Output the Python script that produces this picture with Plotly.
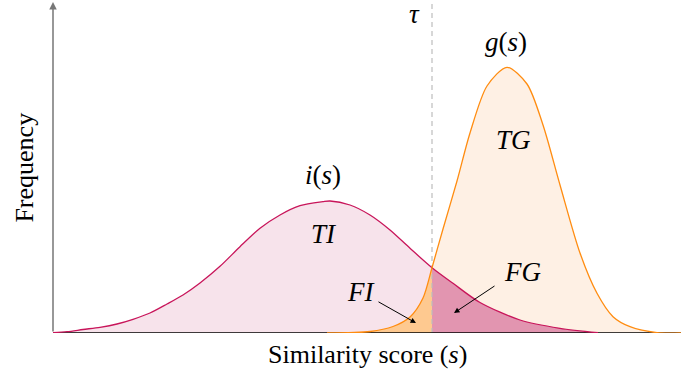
import plotly.graph_objects as go

# similarity score axis (s) and frequency
s_range = [0, 6.28]
f_range = [0, 3.31]
tau = 3.79

# impostor distribution i(s)
imp_s = [0.00, 0.14, 0.30, 0.47, 0.64, 0.80, 0.97, 1.14, 1.30, 1.47, 1.67, 1.87, 2.07, 2.27,
         2.47, 2.70, 2.77, 2.97, 3.17, 3.37, 3.57, 3.79, 4.00, 4.27, 4.67, 5.07, 5.45]
imp_f = [0.003, 0.013, 0.035, 0.057, 0.09, 0.137, 0.20, 0.29, 0.38, 0.50, 0.667, 0.863, 1.047, 1.18,
         1.273, 1.313, 1.32, 1.28, 1.18, 1.03, 0.847, 0.653, 0.497, 0.305, 0.13, 0.047, 0.003]

# genuine distribution g(s)
gen_s = [2.74, 3.17, 3.40, 3.57, 3.70, 3.79, 3.90, 4.04, 4.17, 4.34, 4.54,
         4.74, 4.90, 5.07, 5.27, 5.44, 5.60, 5.77, 6.04, 6.28]
gen_f = [0.0, 0.015, 0.065, 0.16, 0.35, 0.653, 1.04, 1.52, 2.0, 2.47, 2.657,
         2.49, 2.08, 1.48, 0.80, 0.397, 0.163, 0.063, 0.003, 0.0]

crimson = "#c8155a"
orange = "#ff8c10"
serif = "Liberation Serif, Times New Roman, serif"

fi_s = [s for s in gen_s if s <= tau]
fi_f = [f for s, f in zip(gen_s, gen_f) if s <= tau]
fg_s = [s for s in imp_s if s >= tau]
fg_f = [f for s, f in zip(imp_s, imp_f) if s >= tau]

smooth = dict(shape="spline", smoothing=0.8)

fig = go.Figure()
# filled areas
fig.add_trace(go.Scatter(x=imp_s, y=imp_f, fill="tozeroy", fillcolor="#f7e3eb",
                         line=dict(width=0, **smooth), mode="lines"))
fig.add_trace(go.Scatter(x=gen_s, y=gen_f, fill="tozeroy", fillcolor="#fef0e4",
                         line=dict(width=0, **smooth), mode="lines"))
fig.add_trace(go.Scatter(x=fi_s, y=fi_f, fill="tozeroy", fillcolor="#fec990",
                         line=dict(width=0, **smooth), mode="lines"))
fig.add_trace(go.Scatter(x=fg_s, y=fg_f, fill="tozeroy", fillcolor="#e295b0",
                         line=dict(width=0, **smooth), mode="lines"))
# threshold
fig.add_trace(go.Scatter(x=[tau, tau], y=f_range, mode="lines",
                         line=dict(color="#bdbdbd", width=1.2, dash="5px,4px")))
# baseline
fig.add_trace(go.Scatter(x=s_range, y=[0, 0], mode="lines", line=dict(color="black", width=1.4)))
# curves
fig.add_trace(go.Scatter(x=imp_s, y=imp_f, mode="lines",
                         line=dict(color=crimson, width=1.3, **smooth)))
fig.add_trace(go.Scatter(x=gen_s, y=gen_f, mode="lines",
                         line=dict(color=orange, width=1.3, **smooth)))

# y axis with arrow
fig.add_annotation(x=0, y=f_range[1], ax=0, ay=0, xref="x", yref="y", axref="x", ayref="y",
                   text="", showarrow=True, arrowhead=2, arrowsize=1, arrowwidth=1.5,
                   arrowcolor="#777777")

math = dict(family=serif, size=27, color="black")
labels = [
    ("<i>i</i>(<i>s</i>)", 2.70, 1.58),
    ("<i>TI</i>", 2.71, 0.99),
    ("<i>g</i>(<i>s</i>)", 4.53, 2.91),
    ("<i>TG</i>", 4.60, 1.93),
    ("<i>τ</i>", 3.61, 3.19),
    ("<i>FI</i>", 3.08, 0.41),
    ("<i>FG</i>", 4.69, 0.61),
]
for txt, x, y in labels:
    fig.add_annotation(x=x, y=y, text=txt, showarrow=False, font=math,
                       xanchor="center", yanchor="middle")

# pointer arrows for FI and FG
for head, tail in [((3.63, 0.10), (3.24, 0.32)), ((4.01, 0.20), (4.43, 0.48))]:
    fig.add_annotation(x=head[0], y=head[1], ax=tail[0], ay=tail[1],
                       xref="x", yref="y", axref="x", ayref="y", text="",
                       showarrow=True, arrowhead=2, arrowsize=1.1, arrowwidth=1,
                       arrowcolor="black")

fig.add_annotation(x=0.5, y=-0.066, xref="paper", yref="paper", xanchor="center", yanchor="middle",
                   text="Similarity score (<i>s</i>)", showarrow=False,
                   font=dict(family=serif, size=26, color="black"))
fig.add_annotation(x=-0.046, y=0.5, xref="paper", yref="paper", xanchor="center", yanchor="middle",
                   textangle=-90, text="Frequency", showarrow=False,
                   font=dict(family=serif, size=26, color="black"))

fig.update_xaxes(range=s_range, showgrid=False, zeroline=False, showticklabels=False,
                 showline=False, ticks="")
fig.update_yaxes(range=f_range, showgrid=False, zeroline=False, showticklabels=False,
                 showline=False, ticks="")
fig.update_layout(width=681, height=381, margin=dict(l=53, r=0, t=2, b=48),
                  plot_bgcolor="white", paper_bgcolor="white", showlegend=False)

fig.write_html("out.html", config={"displayModeBar": False},
               post_script="document.body.style.margin='0';")
